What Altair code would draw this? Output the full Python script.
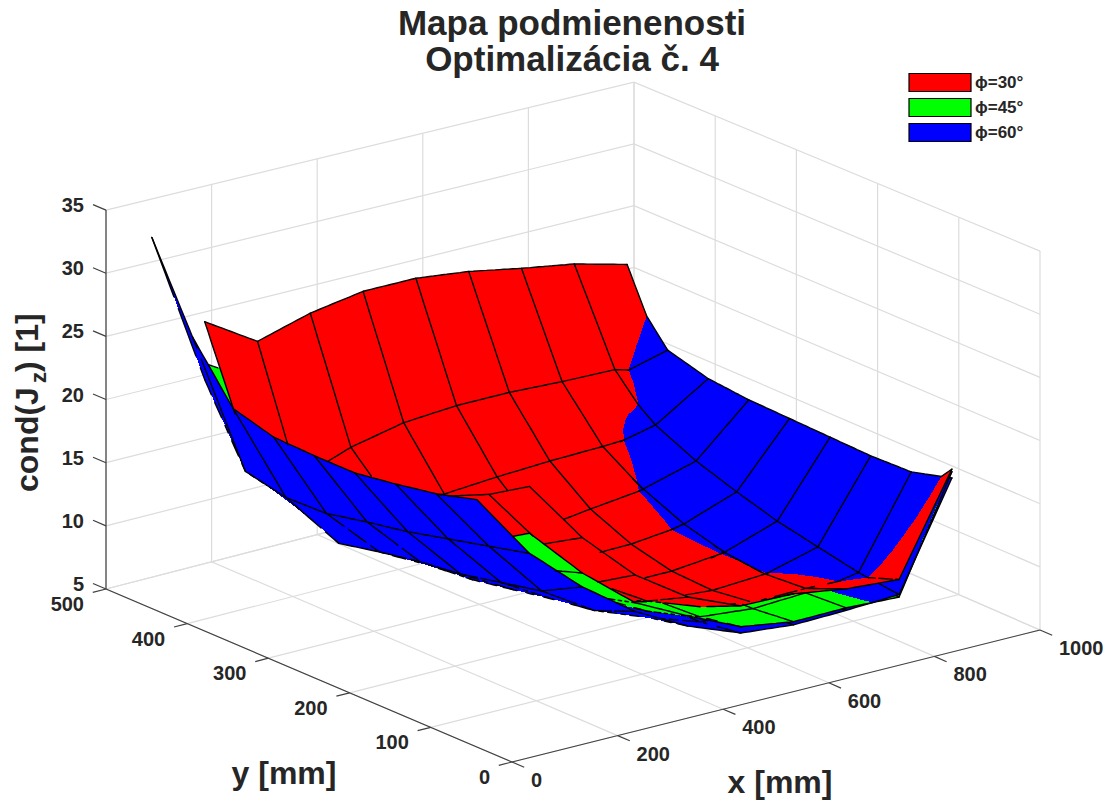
import numpy as np
import altair as alt

alt.data_transformers.disable_max_rows()

# ---- values -----------------------------------------------------------------
x_grid = [10, 110, 210, 310, 410, 510, 610, 710, 810, 910]
y_grid = [50, 100, 150, 200, 250, 300, 350, 400, 450]

# rows: y ascending; columns: x ascending from x=110
z_red = [
    [24.3, 19.2, 15.2, 12.4, 10.65, 10.56, 9.9, 9.6, 17.3],
    [22.3, 17.3, 13.2, 10.7, 9.2, 8.5, 8.55, 8.4, 13.7],
    [20.8, 13.6, 11, 9.4, 8.4, 8.06, 8.3, 8.8, 10.5],
    [18.7, 13, 10.4, 9.2, 8.2, 8.2, 8.62, 9.3, 10],
    [17.5, 12.8, 10.8, 9.5, 8.9, 8.96, 9.4, 10, 11],
    [17.5, 13, 11.5, 10.5, 9.8, 10.36, 10.85, 11.4, 12.5],
    [18, 13.5, 12.5, 12.3, 12.6, 12.8, 12.9, 13.1, 14.5],
    [18, 14.2, 15.7, 16.6, 16.9, 16.9, 16.7, 16.6, 15.4],
    [26.4, 23.8, 25, 25.7, 25.7, 25.2, 24.4, 23.7, 22.6],
]
z_green = [
    [20.6, 16.4, 13, 10.9, 9, 8.35, 8.4, 8.2, 17.1],
    [18.6, 15.3, 12.1, 9.9, 8.4, 8, 8.2, 8.3, 9],
    [17.8, 13.2, 10.7, 9.3, 8.2, 7.95, 8.15, 8.6, 9.1],
    [17, 12.6, 10, 8.9, 8.05, 8.05, 8.4, 9, 9.6],
    [16.5, 12.3, 9.8, 9, 8.4, 8.4, 8.9, 9.4, 10.4],
    [16, 12, 10, 9.6, 9.2, 9.6, 10, 10.8, 11.8],
    [16, 12, 11, 11, 11, 11.5, 11.5, 12, 13],
    [16.5, 13, 12.5, 13.5, 14, 14.5, 14.5, 14.5, 14],
    [23.1, 20.6, 20.8, 21, 21, 20.5, 20, 19, 18],
]
# columns: x ascending from x=10
z_blue = [
    [24.3, 19, 15.3, 12.3, 10.1, 8.5, 8.1, 8.2, 8.4, 16.6],
    [23.4, 18.2, 13.6, 11, 9.4, 8, 7.8, 8, 8.76, 15.7],
    [22.8, 17.4, 12.9, 10.5, 9.2, 8, 7.8, 8.28, 9.4, 15.6],
    [22.3, 16.6, 12.2, 9.9, 8.7, 8, 7.9, 8.64, 10.06, 15.7],
    [22.3, 16, 11.8, 9.3, 8.7, 8.1, 8.63, 9.5, 11, 15.8],
    [22.4, 15.3, 11.2, 9, 8.9, 8.4, 9.8, 10.9, 12.07, 15.9],
    [23.3, 15.2, 10.5, 8.7, 9, 8.8, 11, 12.6, 13.55, 16.2],
    [27.6, 15.9, 12.1, 9.2, 9.2, 9.5, 12.9, 16.4, 16, 17.1],
    [34.1, 21.8, 13.1, 10.2, 10, 11, 14, 18, 20, 21],
]
series = ["ϕ=30°", "ϕ=45°", "ϕ=60°"]
colors = ["#ff0000", "#00ff00", "#0000ff"]
x_ticks = [0, 200, 400, 600, 800, 1000]
y_ticks = [0, 100, 200, 300, 400, 500]
z_ticks = [5, 10, 15, 20, 25, 30, 35]

# ---- view of the box ---------------------------------------------------------
PAD_TOP = 70
PAD_BOTTOM = 8
OX, OY = 8, 8 + PAD_TOP
N = 4
NL = 12


def proj(x, y, z):
    return (512 + 0.528 * x - 0.812 * y,
            762 - 0.132 * x - 0.346 * y - 12.63 * (z - 5)
            + 4 * (x / 1000) * (y / 500) * (z - 20) / 15)


def depth(x, y, z):
    return (-153874 * x / 1000 - 200112 * y / 500 + 144936 * (z - 5) / 30) / 291000


def lonlat(p):
    return [round(float(p[0]) - OX, 1), round(float(p[1]) - OY, 1)]


def line_feature(pts):
    return {"type": "Feature", "properties": {},
            "geometry": {"type": "LineString", "coordinates": [lonlat(p) for p in pts]}}


# ---- depth buffer over the page's pixels -------------------------------------
W, H = 1115, 803
zbuf = np.full((H, W), -1e9)
idbuf = np.full((H, W), -1, dtype=np.int8)
surfaces = [(x_grid[1:], z_red), (x_grid[1:], z_green), (x_grid, z_blue)]


def bilinear(xs, zs, i, j, u, v):
    a = np.array([xs[i], y_grid[j], zs[j][i]], float)
    b = np.array([xs[i + 1], y_grid[j], zs[j][i + 1]], float)
    c = np.array([xs[i + 1], y_grid[j + 1], zs[j + 1][i + 1]], float)
    d = np.array([xs[i], y_grid[j + 1], zs[j + 1][i]], float)
    return a * (1 - u) * (1 - v) + b * u * (1 - v) + c * u * v + d * (1 - u) * v


def raster_triangle(tri, sid):
    scr = np.array([proj(*p) for p in tri])
    dep = np.array([depth(*p) for p in tri])
    x0, x1 = int(np.floor(scr[:, 0].min())), int(np.ceil(scr[:, 0].max()))
    y0, y1 = int(np.floor(scr[:, 1].min())), int(np.ceil(scr[:, 1].max()))
    gx, gy = np.meshgrid(np.arange(x0, x1 + 1) + 0.5, np.arange(y0, y1 + 1) + 0.5)
    (ax, ay), (bx, by), (cx, cy) = scr
    det = (by - cy) * (ax - cx) + (cx - bx) * (ay - cy)
    if abs(det) < 1e-9:
        return
    l0 = ((by - cy) * (gx - cx) + (cx - bx) * (gy - cy)) / det
    l1 = ((cy - ay) * (gx - cx) + (ax - cx) * (gy - cy)) / det
    l2 = 1 - l0 - l1
    m = (l0 >= -1e-6) & (l1 >= -1e-6) & (l2 >= -1e-6)
    if not m.any():
        return
    d = l0[m] * dep[0] + l1[m] * dep[1] + l2[m] * dep[2]
    px = np.floor(gx[m]).astype(int)
    py = np.floor(gy[m]).astype(int)
    closer = d > zbuf[py, px]
    zbuf[py[closer], px[closer]] = d[closer]
    idbuf[py[closer], px[closer]] = sid


for sid, (xs, zs) in enumerate(surfaces):
    for j in range(len(y_grid) - 1):
        for i in range(len(xs) - 1):
            for a in range(N):
                for b in range(N):
                    u0, u1, v0, v1 = a / N, (a + 1) / N, b / N, (b + 1) / N
                    p00 = bilinear(xs, zs, i, j, u0, v0)
                    p10 = bilinear(xs, zs, i, j, u1, v0)
                    p11 = bilinear(xs, zs, i, j, u1, v1)
                    p01 = bilinear(xs, zs, i, j, u0, v1)
                    raster_triangle((p00, p10, p11), sid)
                    raster_triangle((p00, p11, p01), sid)

# each series becomes one shape: what can be seen of its surface
fill_features = []
for sid, name in enumerate(series):
    polys = []
    for row in range(H):
        cols = np.flatnonzero(idbuf[row] == sid)
        if cols.size == 0:
            continue
        breaks = np.flatnonzero(np.diff(cols) > 1)
        starts = np.r_[cols[0], cols[breaks + 1]]
        ends = np.r_[cols[breaks], cols[-1]] + 1
        for s, e in zip(starts, ends):
            x0, x1, y0, y1 = int(s) - OX, int(e) - OX, row - OY, row + 1 - OY
            polys.append([[[x0, y0], [x1, y0], [x1, y1], [x0, y1], [x0, y0]]])
    fill_features.append({"type": "Feature", "properties": {"series": name},
                          "geometry": {"type": "MultiPolygon", "coordinates": polys}})

# ---- mesh lines, drawn only where they can be seen ---------------------------
mesh_features = []


def add_mesh(points, sid):
    run = []
    for k in range(len(points) - 1):
        p, q = points[k], points[k + 1]
        mid = (p + q) / 2
        sx, sy = proj(*mid)
        ix, iy = int(np.floor(sx)), int(np.floor(sy))
        tol = 0.004 if idbuf[iy, ix] == sid else 0.0012
        if depth(*mid) >= zbuf[iy, ix] - tol:
            if not run:
                run = [proj(*p)]
            run.append(proj(*q))
        elif run:
            mesh_features.append(line_feature(run))
            run = []
    if run:
        mesh_features.append(line_feature(run))


for sid, (xs, zs) in enumerate(surfaces):
    last_j, last_i = len(y_grid) - 2, len(xs) - 2
    for j in range(len(y_grid)):
        jj, vv = (j, 0.0) if j <= last_j else (last_j, 1.0)
        pts = [bilinear(xs, zs, i, jj, a / NL, vv) for i in range(last_i + 1) for a in range(NL)]
        pts.append(bilinear(xs, zs, last_i, jj, 1.0, vv))
        add_mesh(pts, sid)
    for i in range(len(xs)):
        ii, uu = (i, 0.0) if i <= last_i else (last_i, 1.0)
        pts = [bilinear(xs, zs, ii, j, uu, b / NL) for j in range(last_j + 1) for b in range(NL)]
        pts.append(bilinear(xs, zs, ii, last_j, uu, 1.0))
        add_mesh(pts, sid)

# ---- box: grid, axes, ticks --------------------------------------------------
grid_features = []
for x in x_ticks:
    grid_features.append(line_feature([proj(x, 0, 5), proj(x, 500, 5), proj(x, 500, 35)]))
for y in y_ticks:
    grid_features.append(line_feature([proj(0, y, 5), proj(1000, y, 5), proj(1000, y, 35)]))
for z in z_ticks:
    grid_features.append(line_feature([proj(0, 500, z), proj(1000, 500, z), proj(1000, 0, z)]))

axis_features = [line_feature([proj(0, 0, 5), proj(1000, 0, 5)]),
                 line_feature([proj(0, 0, 5), proj(0, 500, 5)]),
                 line_feature([proj(0, 500, 5), proj(0, 500, 35)])]
for x in x_ticks:
    axis_features.append(line_feature([proj(x, 0, 5), proj(x, -15, 5)]))
for y in y_ticks:
    axis_features.append(line_feature([proj(0, y, 5), proj(-25, y, 5)]))
for z in z_ticks:
    axis_features.append(line_feature([proj(0, 500, z), proj(0, 516, z)]))


def tick_rows(labels, fn, dx, dy):
    rows = []
    for v in labels:
        sx, sy = fn(v)
        rows.append({"px": sx + dx - OX, "py": sy + dy - OY, "t": str(v)})
    return rows


x_label_rows = tick_rows(x_ticks, lambda v: proj(v, 0, 5), 19, 19)
y_label_rows = tick_rows(y_ticks, lambda v: proj(0, v, 5), -22, 16)
z_label_rows = tick_rows(z_ticks, lambda v: proj(0, 500, v), -22, -4)
name_rows = [{"px": 284 - OX, "py": 774 - OY, "t": "y [mm]"},
             {"px": 780 - OX, "py": 783 - OY, "t": "x [mm]"}]

FONT = "Liberation Sans"
INK = "#262626"
proj_spec = alt.Projection(type="identity", scale=1, translate=[0, 0])


def geo(features):
    return alt.Chart(alt.Data(values=features)).properties(projection=proj_spec)


def text_layer(rows, size, **kw):
    return alt.Chart(alt.Data(values=rows)).mark_text(
        font=FONT, fontWeight="bold", fontSize=size, color=INK, **kw
    ).encode(x=alt.X("px:Q", scale=None, axis=None),
             y=alt.Y("py:Q", scale=None, axis=None), text="t:N")


grid_layer = geo(grid_features).mark_geoshape(filled=False, stroke="#dcdcdc", strokeWidth=1.2)
axis_layer = geo(axis_features).mark_geoshape(filled=False, stroke="#404040", strokeWidth=1.2)
fill_layer = geo(fill_features).mark_geoshape(strokeWidth=0).encode(
    fill=alt.Fill("properties.series:N",
                  scale=alt.Scale(domain=series, range=colors),
                  legend=alt.Legend(title=None, orient="none", legendX=908 - OX, legendY=70 - OY,
                                    symbolType="M-1,-0.29H1V0.29H-1Z", symbolSize=3844,
                                    clipHeight=25, rowPadding=0, padding=0, labelOffset=3,
                                    symbolStrokeColor="#000000", symbolStrokeWidth=1.2,
                                    symbolOpacity=1, labelFont=FONT, labelFontWeight="bold",
                                    labelFontSize=17, labelColor=INK)),
)
mesh_layer = geo(mesh_features).mark_geoshape(filled=False, stroke="#000000", strokeWidth=1.4,
                                              strokeCap="round", strokeJoin="round")

cond_rows = [{"px": 28 - OX, "py": 492 - OY, "t": "cond(J"}]
cond_sub = [{"px": 39 - OX, "py": 383 - OY, "t": "z"}]
cond_end = [{"px": 28 - OX, "py": 372 - OY, "t": ") [1]"}]

chart = alt.layer(
    grid_layer, axis_layer, fill_layer, mesh_layer,
    text_layer(x_label_rows, 20, align="left", baseline="middle"),
    text_layer(y_label_rows, 20, align="right", baseline="middle"),
    text_layer(z_label_rows, 20, align="right", baseline="middle"),
    text_layer(name_rows, 32, align="center", baseline="middle"),
    text_layer(cond_rows, 32, align="left", baseline="middle", angle=270),
    text_layer(cond_sub, 22, align="left", baseline="middle", angle=270),
    text_layer(cond_end, 32, align="left", baseline="middle", angle=270),
).properties(
    width=1099, height=787 - PAD_TOP,
    padding={"left": 0, "top": PAD_TOP, "right": 0, "bottom": PAD_BOTTOM},
    autosize=alt.AutoSizeParams(type="none"),
    background="white",
    title=alt.TitleParams(text=["Mapa podmienenosti", "Optimalizácia č. 4"], font=FONT,
                          fontWeight="bold", fontSize=35, lineHeight=36, color=INK,
                          anchor="middle", dx=14.5, offset=-8),
).configure_view(stroke=None)

chart.save("out.html", embed_options={"renderer": "svg", "actions": False})
